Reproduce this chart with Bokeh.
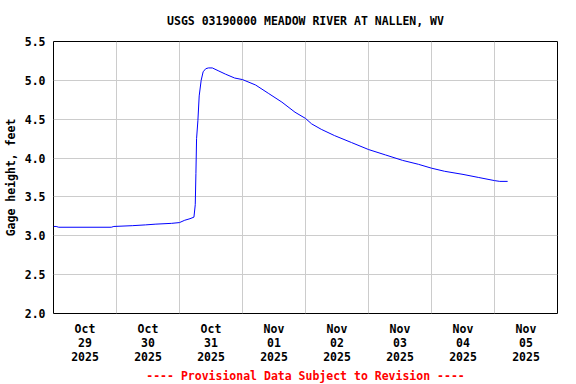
import pandas as pd
from bokeh.plotting import figure
from bokeh.models import FixedTicker, Title, NumeralTickFormatter, Range1d
from bokeh.embed import file_html
from bokeh.resources import INLINE

title_text = "USGS 03190000 MEADOW RIVER AT NALLEN, WV"
y_label = "Gage height, feet"
footer_text = "---- Provisional Data Subject to Revision ----"

times = [
    "2025-10-29 00:00", "2025-10-29 01:00", "2025-10-29 02:00", "2025-10-29 12:00",
    "2025-10-29 22:00", "2025-10-29 23:00", "2025-10-30 06:00", "2025-10-30 11:00",
    "2025-10-30 15:00", "2025-10-30 21:00", "2025-10-31 00:00", "2025-10-31 02:00",
    "2025-10-31 04:00", "2025-10-31 05:30", "2025-10-31 06:00", "2025-10-31 06:15",
    "2025-10-31 06:30", "2025-10-31 07:00", "2025-10-31 07:30", "2025-10-31 08:15",
    "2025-10-31 09:00", "2025-10-31 10:00", "2025-10-31 11:00", "2025-10-31 12:30",
    "2025-10-31 15:00", "2025-10-31 17:30", "2025-10-31 21:00", "2025-11-01 00:00",
    "2025-11-01 05:00", "2025-11-01 10:00", "2025-11-01 15:00", "2025-11-01 20:00",
    "2025-11-02 00:00", "2025-11-02 02:20", "2025-11-02 06:00", "2025-11-02 11:00",
    "2025-11-02 17:30", "2025-11-03 00:00", "2025-11-03 06:30", "2025-11-03 13:00",
    "2025-11-03 19:00", "2025-11-04 00:00", "2025-11-04 05:00", "2025-11-04 12:00",
    "2025-11-04 18:00", "2025-11-05 00:00", "2025-11-05 02:00", "2025-11-05 05:00",
]
gage_height = [
    3.12, 3.12, 3.11, 3.11,
    3.11, 3.12, 3.13, 3.14,
    3.15, 3.16, 3.17, 3.20,
    3.22, 3.24, 3.40, 3.80,
    4.25, 4.48, 4.80, 5.00,
    5.11, 5.15, 5.16, 5.16,
    5.12, 5.08, 5.03, 5.01,
    4.94, 4.83, 4.72, 4.59,
    4.51, 4.44, 4.37, 4.29,
    4.20, 4.11, 4.04, 3.97,
    3.92, 3.87, 3.83, 3.79,
    3.75, 3.71, 3.70, 3.70,
]

day_labels = ["Oct\n29\n2025", "Oct\n30\n2025", "Oct\n31\n2025", "Nov\n01\n2025",
              "Nov\n02\n2025", "Nov\n03\n2025", "Nov\n04\n2025", "Nov\n05\n2025"]
day_starts = ["2025-10-29", "2025-10-30", "2025-10-31", "2025-11-01",
              "2025-11-02", "2025-11-03", "2025-11-04", "2025-11-05", "2025-11-06"]
y_ticks = [2.0, 2.5, 3.0, 3.5, 4.0, 4.5, 5.0, 5.5]

def ms(s):
    return int(pd.Timestamp(s).value // 10**6)

x = [pd.Timestamp(t) for t in times]
midnights = [ms(d) for d in day_starts]
noons = [m + 12 * 3600 * 1000 for m in midnights[:-1]]

FONT = "DejaVu Sans Mono"
FS = "11.5px"

p = figure(width=576, height=384, x_axis_type="datetime",
           output_backend="svg", toolbar_location=None,
           x_range=Range1d(midnights[0], midnights[-1]),
           y_range=Range1d(2.0, 5.5),
           min_border_left=52, min_border_right=19,
           min_border_top=41, min_border_bottom=71)

p.title.text = title_text
p.title.align = "center"
p.title.vertical_align = "middle"
p.title.text_font = FONT
p.title.text_font_size = FS
p.title.text_font_style = "bold"
p.title.text_color = "#000000"
p.title.standoff = 25

p.add_layout(Title(text=footer_text, align="center", text_color="#ff0000",
                   text_font=FONT, text_font_size=FS, text_font_style="bold",
                   standoff=0), "below")

p.line(x, gage_height, line_color="#0000ff", line_width=1)

p.xaxis.ticker = FixedTicker(ticks=noons)
p.xaxis.major_label_overrides = {n: lab for n, lab in zip(noons, day_labels)}
p.xgrid.ticker = FixedTicker(ticks=midnights)
p.yaxis.ticker = FixedTicker(ticks=y_ticks)
p.yaxis.formatter = NumeralTickFormatter(format="0.0")
p.yaxis.axis_label = y_label

for ax in (p.xaxis[0], p.yaxis[0]):
    ax.axis_line_color = None
    ax.major_tick_line_color = None
    ax.minor_tick_line_color = None
    ax.major_tick_out = 0
    ax.major_tick_in = 0
    ax.minor_tick_out = 0
    ax.minor_tick_in = 0
    ax.major_label_text_font = FONT
    ax.major_label_text_font_size = FS
    ax.major_label_text_font_style = "bold"
    ax.major_label_text_color = "#000000"
    ax.axis_label_text_font = FONT
    ax.axis_label_text_font_size = FS
    ax.axis_label_text_font_style = "bold"
    ax.axis_label_text_color = "#000000"

p.xaxis.major_label_standoff = 8
p.xaxis.major_label_text_line_height = 1.0
p.yaxis.major_label_standoff = 8
p.yaxis.axis_label_standoff = 4

for g in (p.xgrid[0], p.ygrid[0]):
    g.grid_line_color = "#cccccc"
    g.grid_line_width = 1

p.outline_line_color = "#000000"
p.outline_line_width = 1
p.background_fill_color = "#ffffff"
p.border_fill_color = "#ffffff"

open("out.html", "w").write(file_html(p, INLINE))
